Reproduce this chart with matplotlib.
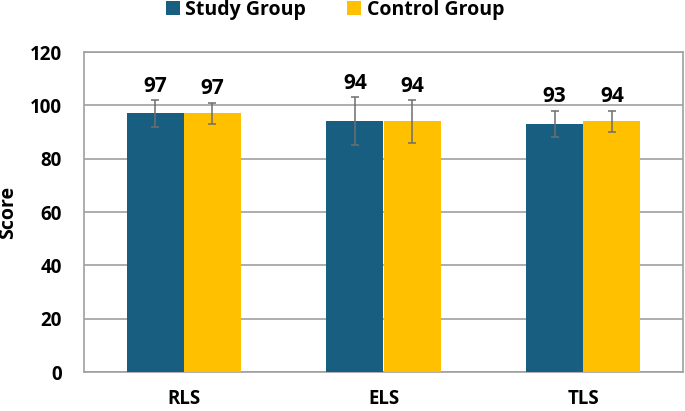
import matplotlib.pyplot as plt
import numpy as np

# chart data
categories = ['RLS', 'ELS', 'TLS']
study_means = [97, 94, 93]
control_means = [97, 94, 94]
study_err = [5, 9, 5]
control_err = [4, 8, 4]

plt.rcParams['font.family'] = ['Open Sans', 'DejaVu Sans']
plt.rcParams['font.weight'] = 'bold'

fig = plt.figure(figsize=(6.85, 4.11), dpi=100)
ax = fig.add_axes([84 / 685, 1 - 372 / 411, 599 / 685, 320 / 411])

x = np.arange(len(categories))
w = 0.287
blue = '#175E80'
gold = '#FFC000'
errkw = dict(ecolor='#6E6E6E', elinewidth=1.1, capsize=3, capthick=1.1)

b1 = ax.bar(x - w / 2, study_means, w, color=blue, yerr=study_err,
            error_kw=errkw, label='Study Group', zorder=3)
b2 = ax.bar(x + w / 2, control_means, w, color=gold, yerr=control_err,
            error_kw=errkw, label='Control Group', zorder=3)

# value labels above the error bars
for bars, means, errs in [(b1, study_means, study_err), (b2, control_means, control_err)]:
    for bar, m, e in zip(bars, means, errs):
        ax.annotate(f"{m}", (bar.get_x() + bar.get_width() / 2, m + e),
                    xytext=(0, 6), textcoords='offset points',
                    ha='center', va='baseline', fontsize=15, fontweight='bold')

ax.set_xlim(-0.5, 2.5)
ax.set_ylim(0, 120)
ax.set_yticks(range(0, 121, 20))
ax.set_xticks(x)
ax.set_xticklabels(categories)
ax.tick_params(axis='both', length=0, labelsize=13.5)
ax.tick_params(axis='y', pad=16)
ax.tick_params(axis='x', pad=12)
ax.set_ylabel('Score', fontsize=14, fontweight='bold', labelpad=8)

ax.grid(axis='y', color='#A0A0A0', linewidth=1.2, zorder=0)
for s in ax.spines.values():
    s.set_color('#A0A0A0')
    s.set_linewidth(1.2)

fig.legend(handles=[b1, b2], loc='center', bbox_to_anchor=(335 / 685, 1 - 10 / 411),
           ncol=2, frameon=False, fontsize=14, handlelength=0.7, handleheight=0.7,
           columnspacing=2.1, handletextpad=0.3, borderpad=0)

fig.savefig('out.png', dpi=100)
